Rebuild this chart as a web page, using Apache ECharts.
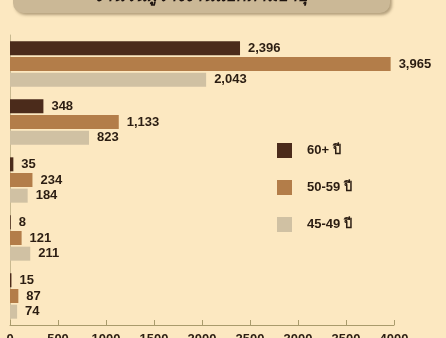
<!DOCTYPE html>
<html>
<head>
<meta charset="utf-8">
<script src="https://cdn.jsdelivr.net/npm/echarts@6/dist/echarts.min.js"></script>
<style>
  html, body { margin: 0; padding: 0; background: #fce8c1; overflow: hidden; }
  #chart { width: 446px; height: 338px; }
</style>
</head>
<body>
<div id="chart"></div>
<script>
// Age groups (legend) and the five row groups, top to bottom
const seriesNames = ['60+ ปี', '50-59 ปี', '45-49 ปี'];
const categories = ['1', '2', '3', '4', '5'];

// Values per age group
const age60plus = [2396, 348, 35, 8, 15];
const age50to59 = [3965, 1133, 234, 121, 87];
const age45to49 = [2043, 823, 184, 211, 74];

// Value axis ticks
const axisMin = 0;
const axisMax = 4000;
const axisStep = 500;

const colors = ['#4b2b1b', '#b37d49', '#d0c1a3'];
const labelFont = { fontFamily: 'Liberation Sans, Arial, sans-serif', fontWeight: 'bold', fontSize: 13, color: '#2b1d12' };

const chart = echarts.init(document.getElementById('chart'), null, { renderer: 'canvas', width: 446, height: 338 });

function makeSeries(name, values, color) {
  return {
    name: name,
    type: 'bar',
    data: values,
    barWidth: 14,
    barGap: '12%',
    itemStyle: { color: color },
    label: {
      show: true,
      position: 'right',
      distance: 8,
      formatter: p => p.value.toLocaleString('en-US'),
      ...labelFont
    }
  };
}

chart.setOption({
  backgroundColor: '#fce8c1',
  animation: false,
  color: colors,
  graphic: [
    {
      type: 'rect',
      shape: { x: 13, y: -20, width: 377, height: 33, r: 10 },
      style: {
        fill: '#cbb896',
        shadowColor: 'rgba(90,70,40,0.45)',
        shadowBlur: 3,
        shadowOffsetX: 2,
        shadowOffsetY: 2
      },
      z: 10
    },
    {
      type: 'text',
      x: 200,
      y: 5,
      style: {
        text: 'จำนวนผู้ว่างงานแยกตามอายุ',
        fontFamily: 'Noto Sans, DejaVu Sans, sans-serif',
        fontWeight: 'bold',
        fontStyle: 'italic',
        fontSize: 17,
        fill: '#1e1410',
        align: 'center',
        verticalAlign: 'bottom'
      },
      z: 11
    }
  ],
  legend: {
    orient: 'vertical',
    left: 272,
    top: 138,
    itemWidth: 15,
    itemHeight: 15,
    itemGap: 22,
    icon: 'rect',
    textStyle: { fontFamily: 'Liberation Sans, Arial, sans-serif', fontWeight: 'bold', fontSize: 13, color: '#2b1d12', padding: [0, 0, 0, 10] },
    data: seriesNames
  },
  grid: { left: 10, width: 384, top: 35, height: 290, containLabel: false, outerBoundsMode: 'none' },
  xAxis: {
    type: 'value',
    min: axisMin,
    max: axisMax,
    interval: axisStep,
    splitLine: { show: false },
    axisLine: { show: true, lineStyle: { color: '#a99b6c', width: 1 } },
    axisTick: { show: true, inside: true, length: 5, lineStyle: { color: '#a99b6c' } },
    axisLabel: { margin: 8, verticalAlign: 'top', formatter: v => String(v), ...labelFont, fontSize: 13 }
  },
  yAxis: {
    type: 'category',
    data: categories,
    inverse: true,
    axisLine: { show: true, lineStyle: { color: '#c9b98f', width: 1 } },
    axisTick: { show: false },
    axisLabel: { show: false }
  },
  series: [
    makeSeries(seriesNames[0], age60plus, colors[0]),
    makeSeries(seriesNames[1], age50to59, colors[1]),
    makeSeries(seriesNames[2], age45to49, colors[2])
  ]
});
</script>
</body>
</html>
